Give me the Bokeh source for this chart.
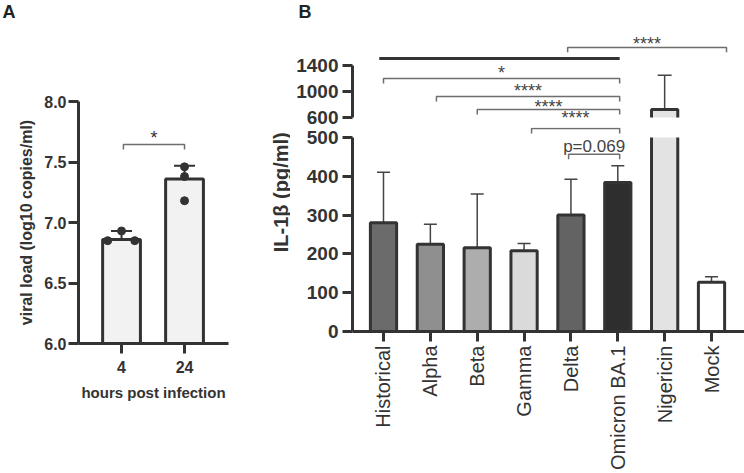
import math
from bokeh.plotting import figure
from bokeh.models import (ColumnDataSource, Range1d, FixedTicker, Whisker, TeeHead,
                          PrintfTickFormatter)
from bokeh.layouts import row, column
from bokeh.embed import file_html
from bokeh.resources import INLINE
from bokeh.core.properties import value

FONT = "Liberation Sans"
INK = "#333333"
BRACKET = "#6e6e6e"

# ---------------- Panel labels ----------------
panel_labels = ["A", "B"]

# ---------------- Panel A data ----------------
a_groups = ["4", "24"]
a_means = [6.86, 7.36]
a_err_lo = [6.86, 7.18]
a_err_hi = [6.93, 7.47]
a_pt_group = [0, 0, 0, 1, 1, 1]
a_pt_values = [6.85, 6.93, 6.85, 7.46, 7.38, 7.18]
a_ticks = [6.0, 6.5, 7.0, 7.5, 8.0]
a_sig = ("*", 0.03, 1.0, 7.645, 7.70)     # label, from, to, level, label level

# ---------------- Panel B data ----------------
b_groups = ["Historical", "Alpha", "Beta", "Gamma", "Delta", "Omicron BA.1", "Nigericin", "Mock"]
b_means = [280, 225, 216, 208, 300, 384, 723, 127]
b_err_hi = [410, 276, 354, 227, 392, 427, 1250, 141]
b_colors = ["#6b6b6b", "#8f8f8f", "#adadad", "#dadada", "#636363", "#2e2e2e", "#e3e3e3", "#ffffff"]
b_low_ticks = [0, 100, 200, 300, 400, 500]
b_high_ticks = [600, 1000, 1400]
b_low_max = 500
b_high_min = 600

# significance brackets (from, to, level)
b_br_up_x0 = [3.93, 0.0, 1.13, 2.0]
b_br_up_x1 = [7.32, 5.04, 5.04, 5.04]
b_br_up_y = [1677, 1200, 923, 723]
b_br_low_x0 = [3.16, 3.95]
b_br_low_x1 = [5.04, 5.04]
b_br_low_y = [523, 456.6]
b_lab_up = ["****", "*", "****", "****", "****"]
b_lab_up_x = [5.625, 2.52, 3.085, 3.52, 4.10]
b_lab_up_y = [1738, 1277, 1015, 754, 585]
b_lab_low = ["p=0.069"]
b_lab_low_x = [4.495]
b_lab_low_y = [477]
b_line_x = [-0.09, 5.04]
b_line_y = 1508
b_ylabel = "IL-1β (pg/ml)"

# jitter of replicate points (style only)
a_jitter = [-0.22, 0.0, 0.21, 0.0, 0.0, 0.0]


def style_axis(ax, size, bold=True):
    ax.axis_line_width = 3
    ax.axis_line_color = INK
    ax.major_tick_line_width = 3
    ax.major_tick_line_color = INK
    ax.major_tick_in = 0
    ax.major_tick_out = 10
    ax.minor_tick_line_color = None
    ax.major_label_text_font = FONT
    ax.major_label_text_font_size = size
    ax.major_label_text_font_style = "bold" if bold else "normal"
    ax.major_label_text_color = INK


def base_fig(w, h, l, r, t, b, xr, yr, **kw):
    f = figure(width=w, height=h, min_border_left=l, min_border_right=r,
               min_border_top=t, min_border_bottom=b, x_range=xr, y_range=yr,
               output_backend="svg", toolbar_location=None, **kw)
    f.grid.visible = False
    f.outline_line_color = None
    f.background_fill_color = "white"
    f.border_fill_color = "white"
    return f


def strip(w, h):
    return base_fig(w, h, 0, 0, 0, 0, Range1d(0, w), Range1d(h, 0),
                    x_axis_location=None, y_axis_location=None)


def brackets(f, x0, x1, y, tick):
    xs, ys = [], []
    for a, b, c in zip(x0, x1, y):
        xs.append([a, a, b, b])
        ys.append([c - tick, c, c, c - tick])
    f.multi_line(xs, ys, line_color=BRACKET, line_width=1.5)


# ================= top strip with panel letters =================
top = strip(744, 24)
top.text([2, 298], [1.5, 1.5], text=panel_labels, text_align="left", text_baseline="top",
         text_font=value(FONT), text_font_size="18px", text_font_style="bold",
         text_color="#222222")

# ================= Panel A =================
fa = base_fig(262, 448, 78, 34, 77, 129, Range1d(-0.683, 1.698), Range1d(6.0, 8.0))
a_x = list(range(len(a_groups)))
fa.vbar(x=a_x, top=a_means, bottom=6.0, width=0.6, fill_color="#f2f2f2",
        line_color=INK, line_width=3)
wa = Whisker(source=ColumnDataSource(dict(x=a_x, lo=a_err_lo, hi=a_err_hi)),
             base="x", lower="lo", upper="hi", line_color=INK, line_width=2,
             upper_head=TeeHead(size=21, line_color=INK, line_width=2),
             lower_head=TeeHead(size=21, line_color=INK, line_width=2))
fa.add_layout(wa)
fa.scatter([g + j for g, j in zip(a_pt_group, a_jitter)], a_pt_values, size=8,
           fill_color=INK, line_color=INK)
lab, s0, s1, lev, lab_lev = a_sig
brackets(fa, [s0], [s1], [lev], 0.042)
fa.text([(s0 + s1) / 2], [lab_lev], text=[lab], text_align="center",
        text_baseline="middle", text_font=value(FONT), text_font_size="18px",
        text_color="#333333")
fa.yaxis.ticker = FixedTicker(ticks=a_ticks)
fa.yaxis.formatter = PrintfTickFormatter(format="%.1f")
fa.xaxis.ticker = FixedTicker(ticks=a_x)
fa.xaxis.major_label_overrides = {i: g for i, g in enumerate(a_groups)}
for ax in (fa.xaxis[0], fa.yaxis[0]):
    style_axis(ax, "16px")
fa.yaxis.major_label_standoff = 2
fa.xaxis.major_label_standoff = 7
fa.yaxis.axis_label = "viral load (log10 copies/ml)"
fa.xaxis.axis_label = "hours post infection"
fa.yaxis.axis_label_standoff = 6
fa.xaxis.axis_label_standoff = 8
for ax in (fa.xaxis[0], fa.yaxis[0]):
    ax.axis_label_text_font = FONT
    ax.axis_label_text_font_style = "bold"
    ax.axis_label_text_color = INK
fa.yaxis.axis_label_text_font_size = "16px"
fa.xaxis.axis_label_text_font_size = "15px"

# ================= Panel B =================
sb = strip(28, 448)
sb.text([18], [168], text=[b_ylabel], angle=math.pi / 2, text_align="center",
        text_baseline="middle", text_font=value(FONT), text_font_size="20px",
        text_font_style="bold", text_color=INK)

b_x = list(range(len(b_groups)))
xr_b = Range1d(-0.6615, 7.704)
BW = 0.56

# ---- upper segment ----
fbu = base_fig(454, 103, 62, 0, 0, 0, xr_b, Range1d(446.2, 2030.8), x_axis_location=None)
hi_idx = [i for i in b_x if b_means[i] > b_low_max]
fbu.vbar(x=hi_idx, bottom=b_high_min, top=[b_means[i] for i in hi_idx], width=BW,
         fill_color=[b_colors[i] for i in hi_idx], line_alpha=0)
fbu.multi_line([[i - BW / 2, i - BW / 2, i + BW / 2, i + BW / 2] for i in hi_idx],
               [[b_high_min, b_means[i], b_means[i], b_high_min] for i in hi_idx],
               line_color=INK, line_width=3)
wu = Whisker(source=ColumnDataSource(dict(x=hi_idx, lo=[b_means[i] for i in hi_idx],
                                          hi=[b_err_hi[i] for i in hi_idx])),
             base="x", lower="lo", upper="hi", line_color="#444444", line_width=1.5,
             upper_head=TeeHead(size=14, line_color="#444444", line_width=1.5),
             lower_head=None)
fbu.add_layout(wu)
brackets(fbu, b_br_up_x0, b_br_up_x1, b_br_up_y, 75)
fbu.line(b_line_x, [b_line_y, b_line_y], line_color=INK, line_width=3)
fbu.text(b_lab_up_x, b_lab_up_y, text=b_lab_up, text_align="center", text_baseline="middle",
         text_font=value(FONT), text_font_size="18px", text_color="#444444")
fbu.yaxis.ticker = FixedTicker(ticks=b_high_ticks)
fbu.yaxis.bounds = (b_high_ticks[0], b_high_ticks[-1])
style_axis(fbu.yaxis[0], "19px")
fbu.yaxis.major_label_standoff = 4

# ---- lower segment ----
fbl = base_fig(454, 345, 62, 0, 0, 139, xr_b, Range1d(0, 525.5))
lo_idx = [i for i in b_x if b_means[i] <= b_low_max]
fbl.vbar(x=lo_idx, top=[b_means[i] for i in lo_idx], bottom=0, width=BW,
         fill_color=[b_colors[i] for i in lo_idx], line_color=INK, line_width=3)
fbl.vbar(x=hi_idx, top=b_low_max, bottom=0, width=BW,
         fill_color=[b_colors[i] for i in hi_idx], line_alpha=0)
fbl.multi_line([[i - BW / 2, i - BW / 2, i + BW / 2, i + BW / 2] for i in hi_idx],
               [[b_low_max, 0, 0, b_low_max] for i in hi_idx],
               line_color=INK, line_width=3)
wl = Whisker(source=ColumnDataSource(dict(x=lo_idx, lo=[b_means[i] for i in lo_idx],
                                          hi=[b_err_hi[i] for i in lo_idx])),
             base="x", lower="lo", upper="hi", line_color="#444444", line_width=1.5,
             upper_head=TeeHead(size=13, line_color="#444444", line_width=1.5),
             lower_head=None)
fbl.add_layout(wl)
brackets(fbl, b_br_low_x0, b_br_low_x1, b_br_low_y, 13)
fbl.text(b_lab_low_x, b_lab_low_y, text=b_lab_low, text_align="center", text_baseline="middle",
         text_font=value(FONT), text_font_size="17px", text_color="#444444")
fbl.yaxis.ticker = FixedTicker(ticks=b_low_ticks)
fbl.yaxis.bounds = (b_low_ticks[0], b_low_ticks[-1])
fbl.xaxis.ticker = FixedTicker(ticks=b_x)
fbl.xaxis.major_label_overrides = {i: g for i, g in enumerate(b_groups)}
style_axis(fbl.yaxis[0], "19px")
style_axis(fbl.xaxis[0], "20px", bold=False)
fbl.yaxis.major_label_standoff = 4
fbl.xaxis.major_label_standoff = 4
fbl.xaxis.major_label_orientation = math.pi / 2

layout = column(top, row(fa, sb, column(fbu, fbl)))
open("out.html", "w").write(file_html(layout, INLINE))
